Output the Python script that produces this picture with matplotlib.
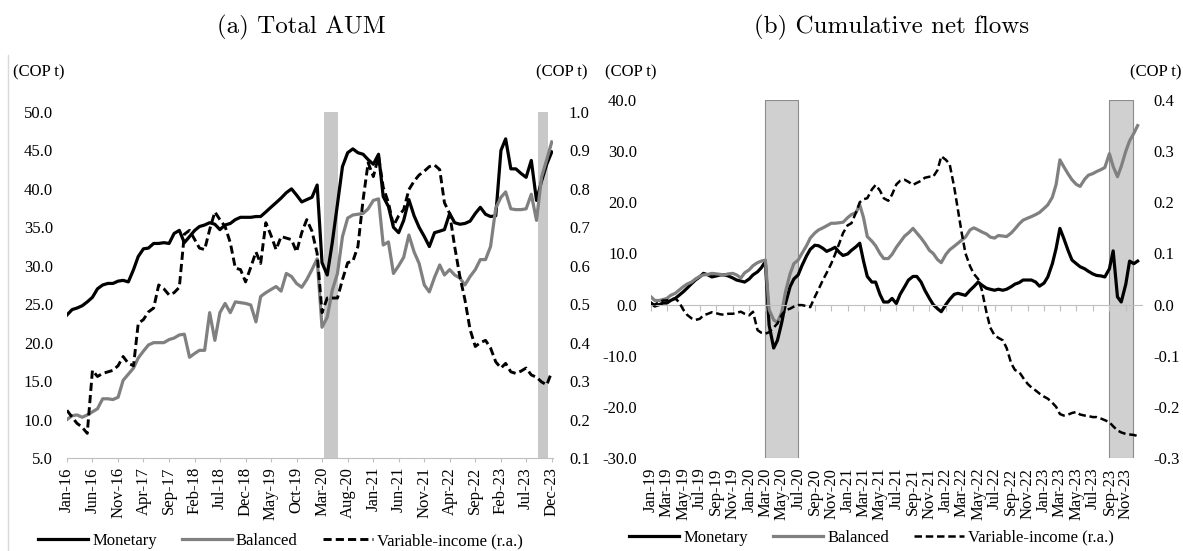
import matplotlib
matplotlib.use('Agg')
import matplotlib.pyplot as plt
import matplotlib.dates as mdates
from matplotlib.lines import Line2D
import numpy as np
import pandas as pd

plt.rcParams['font.family'] = 'Liberation Serif'
plt.rcParams['font.size'] = 12

# %% data -- panel (a) Total AUM, monthly Jan-16 .. Dec-23 (COP t)
aum_dates = pd.date_range('2016-01-01', periods=96, freq='MS')
aum_monetary = [
    23.6, 24.3, 24.5, 24.8, 25.3, 25.9, 27.0, 27.5, 27.7, 27.7, 28.0, 28.1,
    27.9, 29.5, 31.2, 32.2, 32.3, 32.9, 32.9, 33.0, 32.9, 34.2, 34.6, 33.0,
    33.8, 34.6, 35.1, 35.3, 35.6, 35.4, 34.7, 35.3, 35.5, 36.0, 36.3, 36.3,
    36.3, 36.4, 36.4, 37.0, 37.6, 38.2, 38.8, 39.5, 40.0, 39.2, 38.3, 38.6,
    38.9, 40.5, 30.4, 28.8, 33.0, 38.0, 42.9, 44.7, 45.2, 44.7, 44.5, 43.8,
    43.2, 44.5, 39.0, 37.7, 35.0, 34.3, 35.9, 38.6, 36.5, 35.0, 33.8, 32.5,
    34.3, 34.5, 34.7, 36.8, 35.6, 35.4, 35.5, 35.8, 36.8, 37.6, 36.7, 36.4,
    36.5, 45.0, 46.5, 42.6, 42.6, 42.0, 41.5, 43.7, 38.5, 41.0, 43.2, 44.8]
aum_balanced = [
    10.0, 10.5, 10.6, 10.3, 10.6, 11.0, 11.4, 12.7, 12.7, 12.6, 12.9, 15.1,
    15.9, 16.7, 18.0, 18.9, 19.7, 20.0, 20.0, 20.0, 20.4, 20.6, 21.0, 21.1,
    18.1, 18.6, 19.0, 19.0, 23.9, 20.3, 23.9, 25.1, 23.9, 25.3, 25.2, 25.1,
    24.9, 22.7, 26.0, 26.5, 26.9, 27.3, 26.7, 29.0, 28.6, 27.7, 27.2, 28.2,
    29.5, 30.9, 22.0, 23.3, 26.8, 29.0, 33.8, 36.2, 36.6, 36.7, 36.8, 37.4,
    38.5, 38.7, 32.7, 33.1, 29.0, 30.0, 31.1, 34.0, 31.8, 30.3, 27.5, 26.6,
    28.5, 30.1, 28.8, 29.5, 28.8, 28.4, 27.5, 28.6, 29.5, 30.8, 30.8, 32.5,
    37.5, 38.9, 39.6, 37.4, 37.3, 37.3, 37.4, 39.3, 35.9, 41.5, 43.8, 46.1]
aum_variable = [  # right axis
    0.224, 0.206, 0.190, 0.180, 0.164, 0.328, 0.312, 0.320, 0.324, 0.328, 0.340, 0.364,
    0.346, 0.340, 0.450, 0.460, 0.480, 0.490, 0.550, 0.540, 0.524, 0.530, 0.544, 0.682,
    0.692, 0.668, 0.646, 0.642, 0.694, 0.740, 0.720, 0.702, 0.660, 0.594, 0.590, 0.558,
    0.596, 0.636, 0.606, 0.712, 0.680, 0.642, 0.676, 0.672, 0.668, 0.636, 0.686, 0.720,
    0.690, 0.632, 0.478, 0.516, 0.516, 0.516, 0.564, 0.608, 0.612, 0.650, 0.772, 0.868,
    0.832, 0.884, 0.804, 0.764, 0.704, 0.730, 0.746, 0.798, 0.820, 0.836, 0.846, 0.858,
    0.862, 0.850, 0.764, 0.736, 0.650, 0.572, 0.512, 0.434, 0.390, 0.400, 0.406, 0.386,
    0.350, 0.334, 0.346, 0.324, 0.320, 0.326, 0.334, 0.316, 0.310, 0.298, 0.290, 0.324]
aum_shaded = [('2020-03-13', '2020-06-05'), ('2023-09-07', '2023-11-10')]

# %% data -- panel (b) Cumulative net flows, semi-monthly Jan-19 .. Dec-23 (COP t)
flow_dates = pd.date_range('2019-01-01', periods=120, freq='SMS')
flow_monetary = [
    0.3, -0.3, 0.0, 0.3, 0.3, 0.8, 1.2, 1.8, 2.5, 3.2, 4.1, 4.8,
    5.4, 6.1, 5.8, 5.4, 5.6, 5.8, 5.8, 5.6, 5.2, 4.8, 4.6, 4.4,
    5.0, 5.8, 6.4, 7.2, 8.4, -4.0, -8.5, -7.0, -3.5, 0.2, 3.5, 5.0,
    5.8, 7.6, 9.5, 10.8, 11.6, 11.5, 11.0, 10.4, 10.8, 11.2, 10.2, 9.6,
    9.9, 10.6, 11.3, 12.0, 8.5, 5.5, 4.4, 4.4, 2.0, 0.5, 0.5, 1.2,
    0.2, 2.0, 3.5, 4.8, 5.5, 5.5, 4.4, 2.8, 1.2, 0.0, -0.8, -1.4,
    0.0, 1.0, 2.0, 2.2, 2.0, 1.8, 2.8, 3.5, 4.4, 3.8, 3.2, 3.0,
    2.8, 3.0, 2.8, 3.0, 3.5, 4.0, 4.3, 4.8, 4.8, 4.8, 4.4, 3.6,
    4.2, 5.4, 8.0, 11.0, 14.9, 13.0, 10.5, 8.7, 8.0, 7.4, 7.0, 6.5,
    6.0, 5.7, 5.6, 5.4, 7.0, 10.5, 1.5, 0.5, 4.0, 8.5, 8.0, 8.5]
flow_balanced = [
    1.5, 0.8, 0.8, 1.0, 1.2, 1.8, 2.2, 2.8, 3.5, 4.0, 4.4, 5.0,
    5.5, 5.8, 5.9, 6.1, 6.0, 5.9, 5.8, 6.0, 6.1, 5.8, 5.2, 6.2,
    6.8, 7.6, 8.2, 8.5, 8.7, -1.0, -3.0, -3.5, -1.5, 2.5, 6.0, 8.0,
    8.7, 10.0, 11.5, 13.0, 14.0, 14.6, 15.0, 15.4, 15.9, 15.9, 16.0, 16.1,
    17.0, 17.6, 18.0, 19.5, 17.0, 13.3, 12.4, 11.5, 10.0, 9.0, 9.0, 9.8,
    11.2, 12.2, 13.4, 14.0, 14.9, 14.0, 13.0, 12.0, 10.6, 10.0, 8.8, 8.2,
    9.8, 10.7, 11.4, 12.0, 12.6, 13.2, 14.6, 15.0, 14.6, 14.2, 13.8, 13.2,
    13.0, 13.5, 13.4, 13.3, 14.0, 14.8, 15.8, 16.5, 16.9, 17.2, 17.6, 18.0,
    18.8, 19.5, 21.0, 23.5, 28.3, 27.0, 25.5, 24.4, 23.5, 23.1, 24.5, 25.3,
    25.6, 26.0, 26.4, 26.8, 29.5, 27.0, 25.0, 27.0, 30.0, 32.0, 33.5, 35.0]
flow_variable = [  # right axis
    0.002, 0.000, 0.005, 0.008, 0.008, 0.010, 0.012, 0.005, -0.010, -0.020, -0.027, -0.030,
    -0.028, -0.021, -0.018, -0.015, -0.017, -0.019, -0.020, -0.018, -0.018, -0.016, -0.014, -0.018,
    -0.021, -0.014, -0.050, -0.055, -0.057, -0.054, -0.045, -0.037, -0.020, -0.011, -0.008, -0.004,
    -0.001, -0.001, -0.003, -0.005, 0.015, 0.030, 0.048, 0.062, 0.080, 0.098, 0.120, 0.140,
    0.155, 0.159, 0.180, 0.200, 0.206, 0.208, 0.225, 0.234, 0.223, 0.208, 0.203, 0.215,
    0.235, 0.242, 0.244, 0.240, 0.234, 0.238, 0.242, 0.248, 0.250, 0.250, 0.263, 0.290,
    0.283, 0.275, 0.230, 0.185, 0.140, 0.100, 0.075, 0.060, 0.050, 0.028, -0.015, -0.045,
    -0.060, -0.065, -0.070, -0.085, -0.115, -0.128, -0.132, -0.143, -0.155, -0.162, -0.168, -0.174,
    -0.180, -0.184, -0.192, -0.200, -0.214, -0.217, -0.215, -0.212, -0.210, -0.215, -0.217, -0.218,
    -0.220, -0.220, -0.223, -0.226, -0.230, -0.238, -0.246, -0.250, -0.253, -0.254, -0.255, -0.257]
flow_shaded = [('2020-03-01', '2020-07-01'), ('2023-09-01', '2023-11-28')]

legend_labels = ['Monetary', 'Balanced', 'Variable-income (r.a.)']

# %% styling
AXIS_GRAY = '#bfbfbf'
BAL_GRAY = '#808080'

fig = plt.figure(figsize=(11.83, 5.51), dpi=100)

# ---------------- panel (a)
ax1 = fig.add_axes([0.0566, 0.1688, 0.4108, 0.628])
ax1r = ax1.twinx()
for a, b in aum_shaded:
    ax1.axvspan(pd.Timestamp(a), pd.Timestamp(b), color='#c8c8c8', lw=0, zorder=0)
l1, = ax1.plot(aum_dates, aum_monetary, color='black', lw=2.3, solid_joinstyle='round')
l2, = ax1.plot(aum_dates, aum_balanced, color=BAL_GRAY, lw=2.3, solid_joinstyle='round')
l3, = ax1r.plot(aum_dates, aum_variable, color='black', lw=2.1, dashes=(2.8, 1.4))

ax1.set_ylim(5, 50)
ax1r.set_ylim(0.1, 1.0)
ax1.set_yticks(np.arange(5, 50.1, 5))
ax1r.set_yticks(np.arange(0.1, 1.01, 0.1))
ax1.yaxis.set_major_formatter(plt.FormatStrFormatter('%.1f'))
ax1r.yaxis.set_major_formatter(plt.FormatStrFormatter('%.1f'))
ax1.set_xlim(aum_dates[0], pd.Timestamp('2023-12-08'))
aum_ticks = aum_dates[::5]
ax1.set_xticks(aum_ticks)
ax1.set_xticklabels([d.strftime('%b-%y') for d in aum_ticks], rotation=90)
for a in (ax1, ax1r):
    for s in ('top', 'left', 'right', 'bottom'):
        a.spines[s].set_visible(False)
ax1.spines['bottom'].set_visible(True)
ax1.spines['bottom'].set_color(AXIS_GRAY)
ax1.tick_params(axis='x', length=3, color=AXIS_GRAY, pad=3.5)
ax1.tick_params(axis='y', length=0, pad=10)
ax1r.tick_params(axis='y', length=0, pad=11.5)

fig.text(0.011, 0.869, '(COP t)', ha='left', va='center')
fig.text(0.497, 0.869, '(COP t)', ha='right', va='center')
fig.text(0.255, 0.951, '(a) Total AUM', ha='center', va='center',
         fontfamily='cmr10', fontsize=18)
fig.add_artist(Line2D([0.007, 0.007], [0.0, 0.9], transform=fig.transFigure,
                      color='#d9d9d9', lw=1))

fig.legend([l1, l2, l3], legend_labels, loc='center', bbox_to_anchor=(0.237, 0.018),
           ncol=3, frameon=False, handlelength=3.0, handletextpad=0.25,
           columnspacing=1.5, fontsize=12)

# ---------------- panel (b)
ax2 = fig.add_axes([0.5503, 0.1688, 0.4150, 0.6497])
ax2r = ax2.twinx()
for a, b in flow_shaded:
    ax2.axvspan(pd.Timestamp(a), pd.Timestamp(b), facecolor='#d0d0d0',
                edgecolor='#8c8c8c', lw=0.8, zorder=0)
m1, = ax2.plot(flow_dates, flow_monetary, color='black', lw=2.3)
m2, = ax2.plot(flow_dates, flow_balanced, color=BAL_GRAY, lw=2.3)
m3, = ax2r.plot(flow_dates, flow_variable, color='black', lw=1.8, dashes=(3.0, 1.5))

ax2.set_ylim(-30, 40)
ax2r.set_ylim(-0.3, 0.4)
ax2.set_yticks(np.arange(-30, 40.1, 10))
ax2r.set_yticks(np.arange(-0.3, 0.41, 0.1))
ax2.yaxis.set_major_formatter(plt.FormatStrFormatter('%.1f'))
ax2r.yaxis.set_major_formatter(plt.FormatStrFormatter('%.1f'))
ax2.set_xlim(pd.Timestamp('2019-01-01'), pd.Timestamp('2023-12-31'))
flow_ticks = pd.date_range('2019-01-01', '2023-11-01', freq='2MS')
flow_ticknums = mdates.date2num(flow_ticks)
for a in (ax2, ax2r):
    for s in ('top', 'left', 'right', 'bottom'):
        a.spines[s].set_visible(False)
# axis line crosses at zero, labels kept at the bottom
ax2.spines['bottom'].set_visible(True)
ax2.spines['bottom'].set_position(('data', 0))
ax2.spines['bottom'].set_color(AXIS_GRAY)
ax2.set_xticks(flow_ticknums)
ax2.tick_params(axis='x', length=4, color=AXIS_GRAY, labelbottom=False)
sec = ax2.secondary_xaxis('bottom')
sec.set_xticks(flow_ticknums)
sec.set_xticklabels([d.strftime('%b-%y') for d in flow_ticks], rotation=90)
sec.tick_params(axis='x', length=0, pad=7)
sec.spines['bottom'].set_visible(False)
ax2.tick_params(axis='y', length=0, pad=10)
ax2r.tick_params(axis='y', length=0, pad=8)

fig.text(0.511, 0.869, '(COP t)', ha='left', va='center')
fig.text(0.999, 0.869, '(COP t)', ha='right', va='center')
fig.text(0.754, 0.951, '(b) Cumulative net flows', ha='center', va='center',
         fontfamily='cmr10', fontsize=18)

fig.legend([m1, m2, m3], legend_labels, loc='center', bbox_to_anchor=(0.737, 0.024),
           ncol=3, frameon=False, handlelength=3.0, handletextpad=0.25,
           columnspacing=1.5, fontsize=12)

fig.savefig('out.png', dpi=100)
